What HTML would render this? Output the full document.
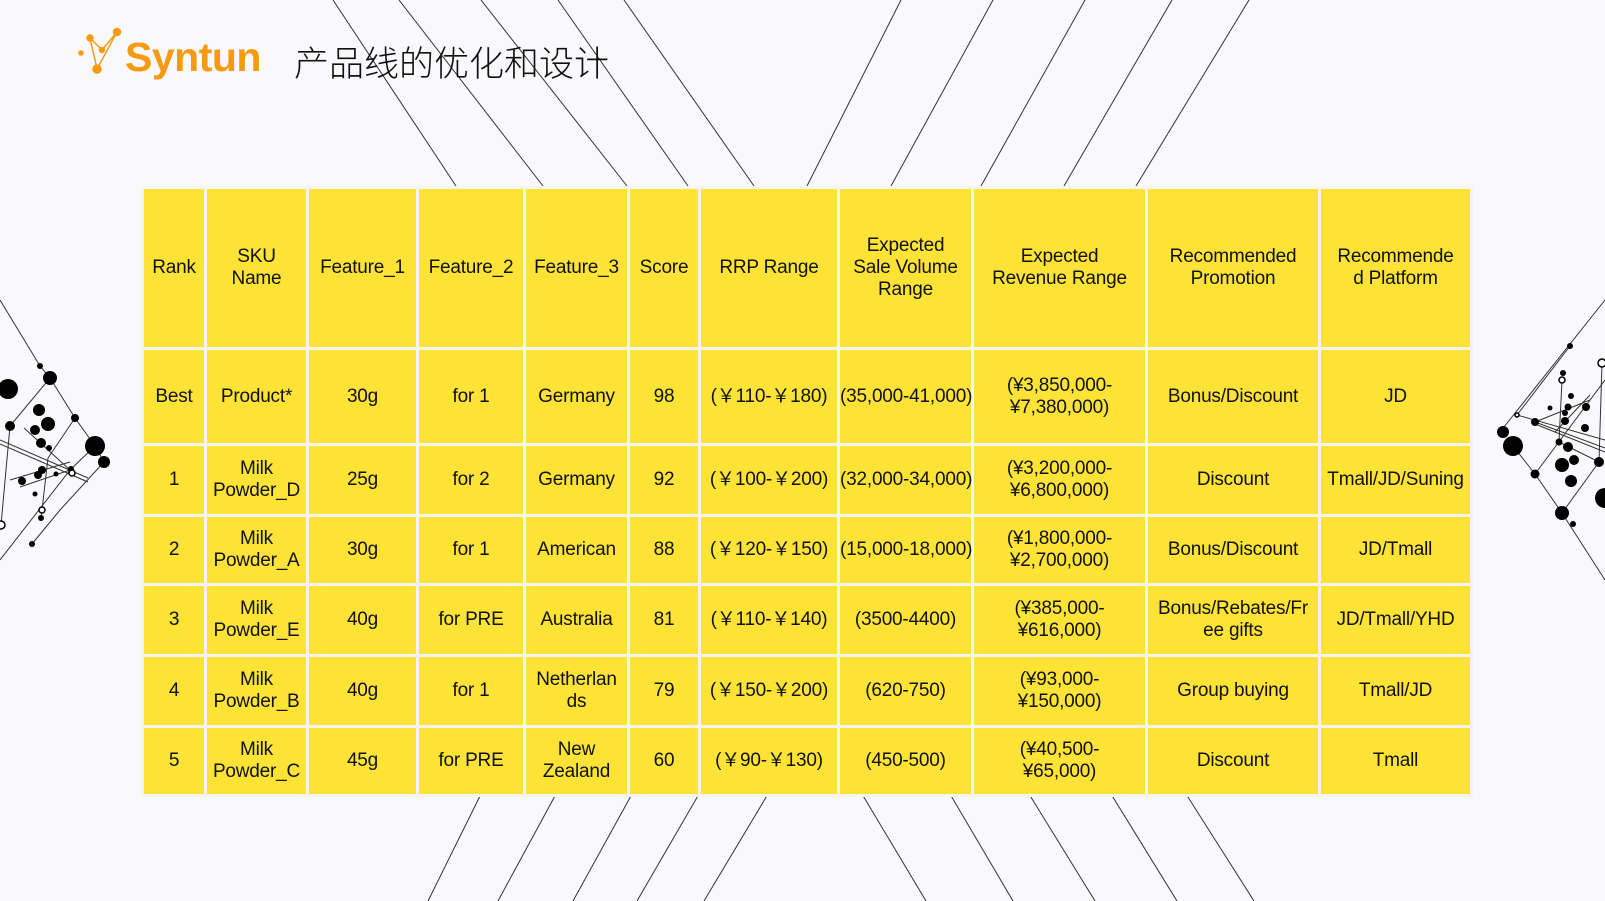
<!DOCTYPE html>
<html><head><meta charset="utf-8"><style>
html,body{margin:0;padding:0}
body{width:1605px;height:901px;position:relative;background:#f9f9fc;overflow:hidden;font-family:"Liberation Sans","DejaVu Sans","Noto Sans CJK SC",sans-serif}
svg.bg{position:absolute;left:0;top:0}
.logo{position:absolute;left:125px;top:34px;font-size:41px;font-weight:bold;color:#f59a12;letter-spacing:-0.5px}
.title{position:absolute;left:294px;top:36px;font-size:35px;color:#111;font-family:"Noto Sans CJK SC",sans-serif;font-weight:300}
table{position:absolute;left:141px;top:186px;width:1329px;height:608px;border-collapse:collapse;table-layout:fixed;background:#f2f2f2}
td{background:#fde335;border:3px solid #f4f4f4;text-align:center;vertical-align:middle;font-size:19px;color:#111;line-height:22px;padding:0;word-break:normal;white-space:nowrap;letter-spacing:-0.2px}
</style></head><body>
<svg class="bg" width="1605" height="901" viewBox="0 0 1605 901">
<g stroke="#333" stroke-width="1" fill="none">
<line x1="333" y1="0" x2="456" y2="186"/><line x1="399" y1="0" x2="543" y2="186"/><line x1="481" y1="0" x2="627" y2="186"/><line x1="558" y1="0" x2="688" y2="186"/><line x1="624" y1="0" x2="754" y2="186"/>
<line x1="901" y1="0" x2="807" y2="186"/><line x1="993" y1="0" x2="891" y2="186"/><line x1="1085" y1="0" x2="981" y2="186"/><line x1="1172" y1="0" x2="1064" y2="186"/><line x1="1249" y1="0" x2="1136" y2="186"/>
<line x1="481" y1="794" x2="428" y2="901"/><line x1="556" y1="794" x2="498" y2="901"/><line x1="632" y1="794" x2="573" y2="901"/><line x1="699" y1="794" x2="637" y2="901"/><line x1="768" y1="794" x2="704" y2="901"/>
<line x1="862" y1="794" x2="926" y2="901"/><line x1="950" y1="794" x2="1013" y2="901"/><line x1="1029" y1="794" x2="1095" y2="901"/><line x1="1111" y1="794" x2="1177" y2="901"/><line x1="1186" y1="794" x2="1254" y2="901"/>
<polyline points="0,300 40,366 50,378 75,418 95,446 104,462"/>
<polyline points="50,378 10,426 1,525"/>
<polyline points="75,418 48,458 42,510 41,518"/>
<polyline points="104,462 60,510 32,544"/>
<polyline points="95,446 70,470 0,560"/>
<line x1="0" y1="440" x2="88" y2="478"/><line x1="0" y1="444" x2="88" y2="482"/>
<line x1="10" y1="480" x2="70" y2="462"/><line x1="20" y1="487" x2="70" y2="470"/><line x1="24" y1="428" x2="70" y2="470"/>
</g>
<g fill="#000">
<circle cx="40" cy="366" r="3"/><circle cx="50" cy="378" r="7"/><circle cx="8" cy="389" r="10"/><circle cx="39" cy="410" r="6"/><circle cx="75" cy="418" r="4"/><circle cx="10" cy="426" r="5"/><circle cx="48" cy="424" r="7"/><circle cx="35" cy="430" r="5"/><circle cx="95" cy="446" r="10"/><circle cx="104" cy="462" r="6"/><circle cx="41" cy="443" r="5"/><circle cx="49" cy="448" r="3"/><circle cx="71" cy="469" r="3"/><circle cx="22" cy="481" r="4"/><circle cx="38" cy="475" r="4"/><circle cx="42" cy="470" r="4"/><circle cx="35" cy="494" r="2.5"/><circle cx="56" cy="474" r="2.5"/><circle cx="41" cy="518" r="3"/><circle cx="32" cy="544" r="3"/>
</g>
<g fill="#fff" stroke="#000" stroke-width="1.5"><circle cx="42" cy="510" r="3"/><circle cx="1" cy="525" r="4"/><circle cx="72" cy="473" r="3"/></g>
<g stroke="#333" stroke-width="1" fill="none">
<line x1="1517" y1="415" x2="1570" y2="346"/><line x1="1500" y1="432" x2="1605" y2="300"/>
<line x1="1517" y1="415" x2="1605" y2="440"/><line x1="1535" y1="422" x2="1605" y2="448"/><line x1="1535" y1="424" x2="1605" y2="452"/>
<polyline points="1513,446 1535,474 1562,513 1605,580"/>
<line x1="1535" y1="474" x2="1605" y2="380"/><line x1="1562" y1="380" x2="1559" y2="442"/><line x1="1602" y1="363" x2="1599" y2="462"/>
<line x1="1535" y1="422" x2="1590" y2="400"/><line x1="1555" y1="432" x2="1590" y2="395"/><line x1="1562" y1="513" x2="1599" y2="462"/><line x1="1559" y1="442" x2="1599" y2="462"/>
</g>
<g fill="#000">
<circle cx="1570" cy="346" r="3"/><circle cx="1563" cy="373" r="3"/><circle cx="1571" cy="396" r="3"/><circle cx="1568" cy="407" r="3.5"/><circle cx="1586" cy="407" r="4"/><circle cx="1550" cy="408" r="2.5"/><circle cx="1565" cy="413" r="3"/><circle cx="1535" cy="422" r="4"/><circle cx="1503" cy="432" r="6"/><circle cx="1513" cy="446" r="10"/><circle cx="1565" cy="421" r="4"/><circle cx="1585" cy="428" r="4"/><circle cx="1559" cy="442" r="3.5"/><circle cx="1568" cy="447" r="5"/><circle cx="1562" cy="465" r="7"/><circle cx="1574" cy="460" r="5"/><circle cx="1571" cy="481" r="6"/><circle cx="1535" cy="474" r="4.5"/><circle cx="1599" cy="462" r="5"/><circle cx="1605" cy="498" r="10"/><circle cx="1562" cy="513" r="7"/><circle cx="1573" cy="524" r="3"/>
</g>
<g fill="#fff" stroke="#000" stroke-width="1.5"><circle cx="1602" cy="363" r="4"/><circle cx="1562" cy="380" r="3"/><circle cx="1517" cy="415" r="2"/></g>
<g stroke="#f59a12" stroke-width="1.5" fill="#f59a12">
<line x1="90" y1="38" x2="102" y2="50"/><line x1="102" y1="50" x2="117" y2="32"/><line x1="117" y1="32" x2="97" y2="69"/><line x1="90" y1="38" x2="97" y2="69"/>
<circle cx="90" cy="38" r="3"/><circle cx="117" cy="32" r="3.5"/><circle cx="102" cy="50" r="2.5"/><circle cx="97" cy="69" r="4"/><circle cx="81" cy="53" r="2"/>
</g>
</svg>
<div class="logo">Syntun</div>
<div class="title">产品线的优化和设计</div>
<table>
<colgroup><col style="width:63px"><col style="width:102px"><col style="width:110px"><col style="width:107px"><col style="width:104px"><col style="width:71px"><col style="width:139px"><col style="width:134px"><col style="width:174px"><col style="width:173px"><col style="width:152px"></colgroup>
<tr style="height:161px"><td>Rank</td><td>SKU<br>Name</td><td>Feature_1</td><td>Feature_2</td><td>Feature_3</td><td>Score</td><td>RRP Range</td><td>Expected<br>Sale Volume<br>Range</td><td>Expected<br>Revenue Range</td><td>Recommended<br>Promotion</td><td>Recommende<br>d Platform</td></tr>
<tr style="height:96px"><td>Best</td><td>Product*</td><td>30g</td><td>for 1</td><td>Germany</td><td>98</td><td>(￥110-￥180)</td><td>(35,000-41,000)</td><td>(¥3,850,000-<br>¥7,380,000)</td><td>Bonus/Discount</td><td>JD</td></tr>
<tr style="height:71px"><td>1</td><td>Milk<br>Powder_D</td><td>25g</td><td>for 2</td><td>Germany</td><td>92</td><td>(￥100-￥200)</td><td>(32,000-34,000)</td><td>(¥3,200,000-<br>¥6,800,000)</td><td>Discount</td><td>Tmall/JD/Suning</td></tr>
<tr style="height:69px"><td>2</td><td>Milk<br>Powder_A</td><td>30g</td><td>for 1</td><td>American</td><td>88</td><td>(￥120-￥150)</td><td>(15,000-18,000)</td><td>(¥1,800,000-<br>¥2,700,000)</td><td>Bonus/Discount</td><td>JD/Tmall</td></tr>
<tr style="height:71px"><td>3</td><td>Milk<br>Powder_E</td><td>40g</td><td>for PRE</td><td>Australia</td><td>81</td><td>(￥110-￥140)</td><td>(3500-4400)</td><td>(¥385,000-<br>¥616,000)</td><td>Bonus/Rebates/Fr<br>ee gifts</td><td>JD/Tmall/YHD</td></tr>
<tr style="height:71px"><td>4</td><td>Milk<br>Powder_B</td><td>40g</td><td>for 1</td><td>Netherlan<br>ds</td><td>79</td><td>(￥150-￥200)</td><td>(620-750)</td><td>(¥93,000-<br>¥150,000)</td><td>Group buying</td><td>Tmall/JD</td></tr>
<tr style="height:69px"><td>5</td><td>Milk<br>Powder_C</td><td>45g</td><td>for PRE</td><td>New<br>Zealand</td><td>60</td><td>(￥90-￥130)</td><td>(450-500)</td><td>(¥40,500-<br>¥65,000)</td><td>Discount</td><td>Tmall</td></tr>
</table>
</body></html>
